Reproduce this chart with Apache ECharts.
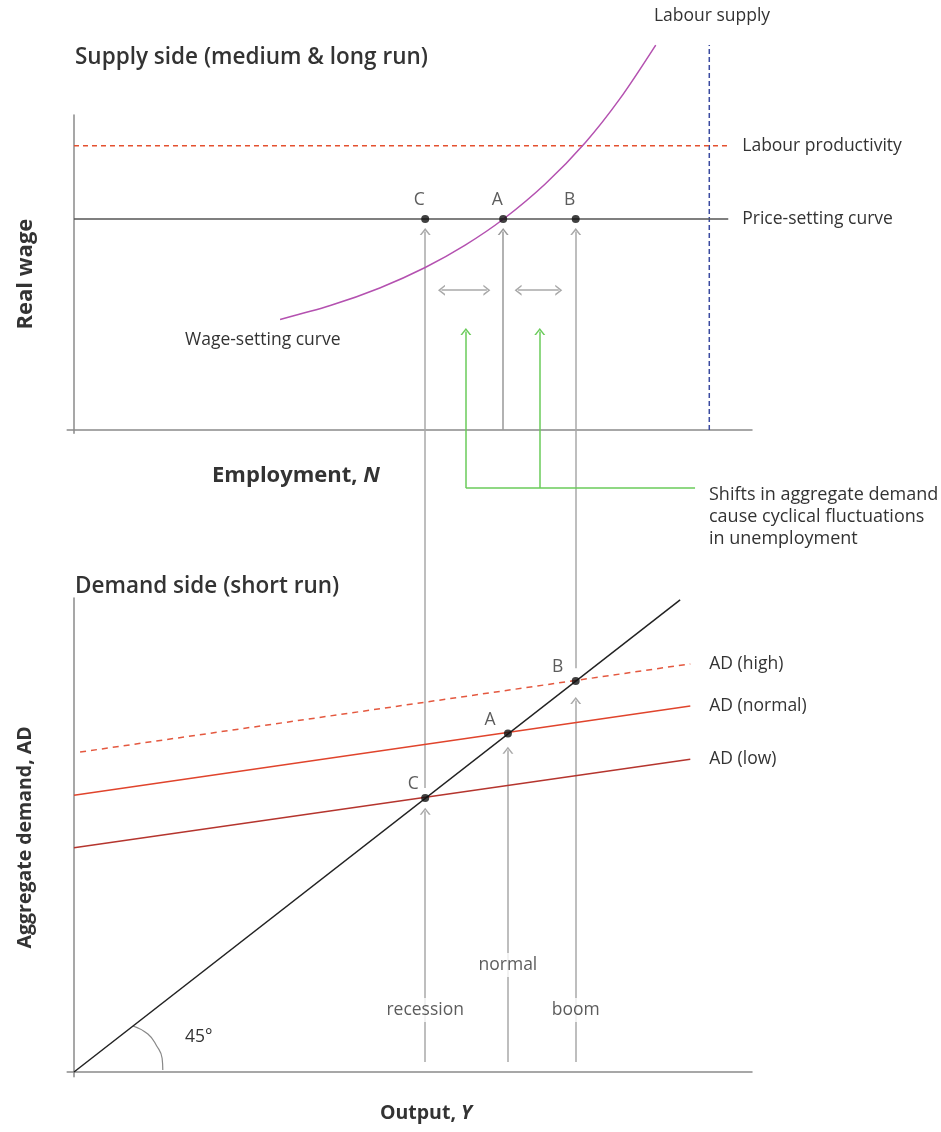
<!DOCTYPE html>
<html>
<head>
<meta charset="utf-8">
<script src="https://cdn.jsdelivr.net/npm/echarts@6/dist/echarts.min.js"></script>
<style>
  html, body { margin: 0; padding: 0; background: #fff; }
  #chart { width: 941px; height: 1132px; }
</style>
</head>
<body>
<div id="chart"></div>
<script>
// top panel: x = employment, y = real wage (0-100 scale, values above 100 run past the axis)
const wageSetting = [[30.4, 35.1], [37.8, 39.5], [45.1, 45.1], [51.8, 51.6], [57.7, 58.7], [63.3, 66.9], [69.5, 78.1], [75.4, 91.2], [80.5, 105.1], [85.8, 122.2]];
const priceSetting = [[0, 67.0], [96.5, 67.0]];
const productivity = [[0, 90.2], [96.5, 90.2]];
const labourSupply = [[93.7, 0], [93.7, 122.2]];
const supplyPoints = [['C', 51.8, 67.0], ['A', 63.3, 67.0], ['B', 74.0, 67.0]];
const supplyArrows = [[[63.3, 0], [63.3, 63.0]]];
const doubleArrows = [[[54.2, 44.4], [60.9, 44.4]], [[65.5, 44.4], [71.5, 44.4]]];
const greenArrows = [[[57.8, -18.4], [57.8, 31.3]], [[68.7, -18.4], [68.7, 31.3]]];
const greenBar = [[57.8, -18.4], [91.6, -18.4]];

// bottom panel: x = output, y = aggregate demand
const line45 = [[0, 0], [89.4, 99.6]];
const adHigh = [[0.9, 67.5], [90.9, 86.1]];
const adNormal = [[0, 58.4], [90.9, 77.2]];
const adLow = [[0, 47.3], [90.9, 66.0]];
const angleArc = [[8.7, 9.7], [10.9, 8.0], [12.2, 5.5], [13.0, 2.9], [13.1, 0.4]];
const demandPoints = [['C', 51.8, 57.8], ['A', 64.0, 71.4], ['B', 74.0, 82.5]];
const demandArrows = [
  [[51.8, 2.1], [51.8, 55.0]], [[51.8, 59.9], [51.8, 177.3]],
  [[64.0, 2.1], [64.0, 67.9]],
  [[74.0, 2.1], [74.0, 78.4]], [[74.0, 85.2], [74.0, 177.3]]
];
const cycleLabels = [['recession', 51.8, 13.1], ['normal', 64.0, 22.6], ['boom', 74.0, 13.1]];

const FONT = '"Open Sans", "Noto Sans", sans-serif';
const TEXT = '#333';
const GRAY = '#a8a8a8';
const LABEL = 17.5;
const CHEVRON = 'path://M0,10 L6,0 L12,10 L10,10 L6,3.3 L2,10 Z';

function axis(gridIndex, min, max, extra) {
  return Object.assign({
    type: 'value', gridIndex: gridIndex, min: min, max: max,
    axisLine: { show: true, onZero: true, lineStyle: { color: '#8a8a8a', width: 1.5 } },
    axisTick: { show: false }, axisLabel: { show: false }, splitLine: { show: false }
  }, extra || {});
}

function plain(idx, data, color, extra) {
  return Object.assign({
    type: 'line', xAxisIndex: idx, yAxisIndex: idx, data: data, symbol: 'none',
    clip: false, silent: true, animation: false, z: 3,
    lineStyle: { color: color, width: 1.5 }
  }, extra || {});
}

function arrows(idx, segs, color, both, z) {
  return {
    type: 'lines', coordinateSystem: 'cartesian2d', xAxisIndex: idx, yAxisIndex: idx,
    clip: false, silent: true, animation: false, z: z || 1,
    symbol: both ? [CHEVRON, CHEVRON] : ['none', CHEVRON],
    symbolSize: [[11, 7], [11, 7]],
    lineStyle: { color: color, width: 1.5, opacity: 1, curveness: 0 },
    data: segs.map(function (s) { return { coords: s }; })
  };
}

function endLabel(text, dist) {
  return { show: true, formatter: text, distance: dist, color: TEXT, fontSize: LABEL, fontFamily: FONT };
}

function points(idx, list, pos) {
  return {
    type: 'scatter', xAxisIndex: idx, yAxisIndex: idx, symbolSize: 8, silent: true,
    animation: false, z: 6, itemStyle: { color: '#111' },
    label: { show: true, position: 'top', formatter: '{b}', color: TEXT, fontSize: LABEL, fontFamily: FONT },
    data: list.map(function (p, i) {
      return { name: p[0], value: [p[1], p[2]], label: pos[i] };
    })
  };
}

function note(x, y, text, extra) {
  return {
    type: 'text', x: x, y: y,
    style: Object.assign({ text: text, fill: TEXT, fontSize: LABEL, fontFamily: FONT, verticalAlign: 'middle' }, extra || {})
  };
}

const chart = echarts.init(document.getElementById('chart'));
chart.setOption({
  backgroundColor: '#fff',
  animation: false,
  grid: [
    { left: 67.2, width: 684.8, top: 115, height: 318.15 },
    { left: 67.2, width: 684.8, top: 598, height: 478.74 }
  ],
  xAxis: [axis(0, -1, 100), axis(1, -1, 100)],
  yAxis: [
    axis(0, -1, 100, {
      name: 'Real wage', nameLocation: 'middle', nameGap: 30,
      nameTextStyle: { color: TEXT, fontSize: 22, fontWeight: 'bold', fontFamily: FONT }
    }),
    axis(1, -1, 100, {
      name: 'Aggregate demand, AD', nameLocation: 'middle', nameGap: 32,
      nameTextStyle: { color: TEXT, fontSize: 19.5, fontWeight: 'bold', fontFamily: FONT }
    })
  ],
  graphic: [
    note(75, 58, 'Supply side (medium & long run)', { fontSize: 22.5, fontWeight: 600 }),
    note(75, 587, 'Demand side (short run)', { fontSize: 22.5, fontWeight: 600 }),
    note(296, 476, 'Employment, {i|N}', { fontSize: 22, fontWeight: 'bold', align: 'center',
      rich: { i: { fontStyle: 'italic', fontWeight: 'bold', fontSize: 22, fontFamily: FONT, fill: TEXT } } }),
    note(426, 1113, 'Output, {i|Y}', { fontSize: 19.5, fontWeight: 'bold', align: 'center',
      rich: { i: { fontStyle: 'italic', fontWeight: 'bold', fontSize: 19.5, fontFamily: FONT, fill: TEXT } } }),
    note(712, 16, 'Labour supply', { align: 'center' }),
    note(185, 340, 'Wage-setting curve'),
    note(709, 484, 'Shifts in aggregate demand\ncause cyclical fluctuations\nin unemployment', { fontSize: 18, lineHeight: 22, verticalAlign: 'top' }),
    note(185, 1037, '45°')
  ],
  series: [
    // supply side
    plain(0, labourSupply, '#3b4ba0', { lineStyle: { color: '#3b4ba0', width: 1.5, type: [5, 3] } }),
    plain(0, productivity, '#e4502f', { lineStyle: { color: '#e4502f', width: 1.5, type: [5, 4] }, endLabel: endLabel('Labour productivity', 14) }),
    plain(0, priceSetting, '#555', { endLabel: endLabel('Price-setting curve', 14) }),
    plain(0, wageSetting, '#b451b0', { smooth: 0.3 }),
    arrows(0, supplyArrows, '#999'),
    arrows(0, doubleArrows, GRAY, true),
    plain(0, greenBar, '#6acb5a', { z: 2 }),
    arrows(0, greenArrows, '#6acb5a', false, 2),
    points(0, supplyPoints, [{ offset: [-6, -1] }, { offset: [-6, -1] }, { offset: [-6, -1] }]),

    // demand side
    plain(1, line45, '#222', { z: 4 }),
    plain(1, adHigh, '#e4583f', { lineStyle: { color: '#e4583f', width: 1.5, type: [6, 5] }, endLabel: endLabel('AD (high)', 19) }),
    plain(1, adNormal, '#e0442c', { endLabel: endLabel('AD (normal)', 19) }),
    plain(1, adLow, '#b5352e', { endLabel: endLabel('AD (low)', 19) }),
    plain(1, angleArc, '#888', { smooth: true, lineStyle: { color: '#888', width: 1.2 } }),
    arrows(1, demandArrows, GRAY),
    points(1, demandPoints, [{ offset: [-12, 0], distance: 1 }, { offset: [-18, 0], distance: 1 }, { offset: [-18, 0], distance: 1 }]),
    {
      type: 'scatter', xAxisIndex: 1, yAxisIndex: 1, symbolSize: 0, silent: true, z: 7,
      label: { show: true, position: 'inside', formatter: '{b}', color: TEXT, fontSize: LABEL, fontFamily: FONT,
        backgroundColor: '#fff', padding: [3, 2] },
      data: cycleLabels.map(function (c) { return { name: c[0], value: [c[1], c[2]] }; })
    }
  ]
});
</script>
</body>
</html>
